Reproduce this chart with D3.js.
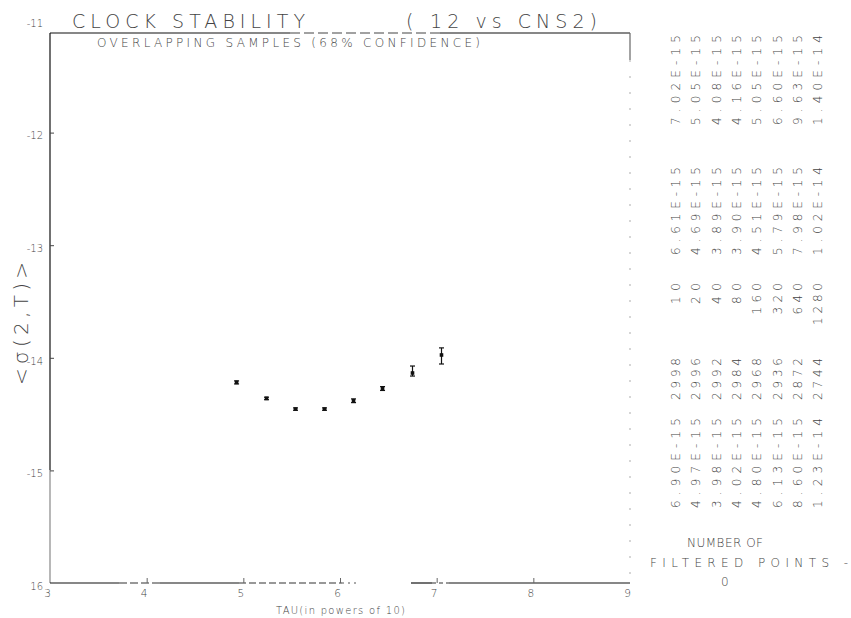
<!DOCTYPE html>
<html><head><meta charset="utf-8">
<script src="https://cdn.jsdelivr.net/npm/d3@7"></script>
<style>
body{margin:0;background:#fff;}
text{font-family:"DejaVu Sans",sans-serif;font-weight:200;fill:#444;}
</style></head>
<body><svg id="c" width="851" height="618"></svg>
<script>
// ---- data ----
const xTicks = [3,4,5,6,7,8,9];
const xTickLabels = ["3","4","5","6","7","8","9"];
const yTicks = [-11,-12,-13,-14,-15,-16];
const yTickLabels = ["-11","-12","-13","-14","-15","16"];
// plotted positions (log10 units) as they appear
const logTau   = [4.93, 5.24, 5.54, 5.84, 6.14, 6.44, 6.75, 7.05];
const logSigma = [-14.218, -14.360, -14.455, -14.455, -14.381, -14.271, -14.135, -13.975];
const logHi    = [-14.205, -14.350, -14.445, -14.445, -14.365, -14.256, -14.073, -13.912];
const logLo    = [-14.232, -14.372, -14.466, -14.466, -14.398, -14.290, -14.162, -14.055];
// right-hand table columns
const colUpper = ["7.02E-15","5.05E-15","4.08E-15","4.16E-15","5.05E-15","6.60E-15","9.63E-15","1.40E-14"];
const colLower = ["6.61E-15","4.69E-15","3.89E-15","3.90E-15","4.51E-15","5.79E-15","7.98E-15","1.02E-14"];
const colTau   = ["10","20","40","80","160","320","640","1280"];
const colN     = ["2998","2996","2992","2984","2968","2936","2872","2744"];
const colSigma = ["6.90E-15","4.97E-15","3.98E-15","4.02E-15","4.80E-15","6.13E-15","8.60E-15","1.23E-14"];

const svg = d3.select("#c");
const x = d3.scaleLinear().domain([3,9]).range([50,630]);
const y = d3.scaleLinear().domain([-16,-11]).range([583,20]);
const ink = "#111";

// frame lines
function seg(x1,y1,x2,y2,dash,col,w){
  svg.append("line").attr("x1",x1).attr("y1",y1).attr("x2",x2).attr("y2",y2)
    .attr("stroke",col||ink).attr("stroke-width",w||1.2)
    .attr("stroke-dasharray",dash||null);
}
// top
seg(50,33,290,33);
seg(290,33,440,33,"10,4","#444");
seg(440,33,630,33);
// left
seg(50,33,50,470);
seg(50,470,50,583,null,"#888");
// right
seg(630,33,630,60,null,"#666");
seg(630,60,630,583,"2,14","#bbb");
// bottom
seg(50,583,119,583);
seg(119,583,160,583,"8,3","#333");
seg(160,583,239,583);
seg(239,583,342,583,"7,3","#333");
seg(342,583,358,583,"2,4","#555");
seg(411,583,432,583);
seg(432,583,449,583,"4,3","#333");
seg(449,583,630,583);

// axes via d3
const xAxis = d3.axisBottom(x).tickValues(xTicks).tickSize(-5).tickPadding(7)
  .tickFormat((d,i)=>xTickLabels[i]);
const gx = svg.append("g").attr("transform","translate(-3,583)").call(xAxis);
gx.select(".domain").remove();
gx.selectAll(".tick line").attr("stroke","#666").attr("transform","translate(3,0)")
  .attr("opacity",(d)=> (d===3||d===9)?0:1);
gx.selectAll(".tick text").attr("font-size",10.5).attr("fill","#444")
  .style("font-family","DejaVu Sans").style("font-weight",200);

const yAxis = d3.axisLeft(y).tickValues(yTicks).tickSize(-4).tickPadding(7)
  .tickFormat((d,i)=>yTickLabels[i]);
const gy = svg.append("g").attr("transform","translate(50,3)").call(yAxis);
gy.select(".domain").remove();
gy.selectAll(".tick line").attr("stroke","#444").attr("transform","translate(0,-3)")
  .attr("opacity",(d)=> (d===-11||d===-16)?0:1);
gy.selectAll(".tick text").attr("font-size",10).attr("fill","#444")
  .style("font-family","DejaVu Sans").style("font-weight",200);

// titles
svg.append("text").attr("x",72).attr("y",28).attr("font-size",19)
  .attr("textLength",233).attr("lengthAdjust","spacing").text("CLOCK STABILITY");
svg.append("text").attr("x",406).attr("y",28).attr("font-size",19).text("(");
svg.append("text").attr("x",430).attr("y",28).attr("font-size",19)
  .attr("textLength",167).attr("lengthAdjust","spacing").text("12 vs CNS2)");
svg.append("text").attr("x",97).attr("y",47).attr("font-size",12)
  .attr("textLength",383).attr("lengthAdjust","spacing")
  .text("OVERLAPPING SAMPLES (68% CONFIDENCE)");
svg.append("text").attr("x",276).attr("y",614).attr("font-size",10)
  .attr("textLength",129).attr("lengthAdjust","spacing")
  .text("TAU(in powers of 10)");
svg.append("text").attr("transform","translate(28,385) rotate(-90)")
  .attr("font-size",20).attr("textLength",123).attr("lengthAdjust","spacing")
  .text("<σ(2,T)>");

// data: error bars and markers
const pts = logTau.map((t,i)=>({t, s:logSigma[i], hi:logHi[i], lo:logLo[i]}));
const g = svg.append("g");
g.selectAll("line.eb").data(pts).join("line").attr("class","eb")
  .attr("x1",d=>x(d.t)).attr("x2",d=>x(d.t))
  .attr("y1",d=>y(d.hi)).attr("y2",d=>y(d.lo))
  .attr("stroke",ink).attr("stroke-width",1.2);
g.selectAll("line.cu").data(pts).join("line").attr("class","cu")
  .attr("x1",d=>x(d.t)-2.5).attr("x2",d=>x(d.t)+2.5)
  .attr("y1",d=>y(d.hi)).attr("y2",d=>y(d.hi)).attr("stroke",ink).attr("stroke-width",1.2);
g.selectAll("line.cl").data(pts).join("line").attr("class","cl")
  .attr("x1",d=>x(d.t)-2.5).attr("x2",d=>x(d.t)+2.5)
  .attr("y1",d=>y(d.lo)).attr("y2",d=>y(d.lo)).attr("stroke",ink).attr("stroke-width",1.2);
g.selectAll("rect.m").data(pts).join("rect").attr("class","m")
  .attr("x",d=>x(d.t)-1.8).attr("y",d=>y(d.s)-1.8)
  .attr("width",3.6).attr("height",3.6).attr("fill",ink);

// right-hand table (rotated columns)
const colX = d3.range(8).map(i=>680 + i*20.3);
function block(arr, yPos, len, anchor){
  svg.append("g").selectAll("text").data(arr).join("text")
    .attr("transform",(d,i)=>`translate(${colX[i]},${yPos}) rotate(-90)`)
    .attr("font-size",12).attr("text-anchor",anchor||"start")
    .attr("textLength",d=> len ? len : d.length*10.5)
    .attr("lengthAdjust","spacing")
    .text(d=>d);
}
block(colUpper,125,90);
block(colLower,255,88);
block(colTau,283,null,"end");
block(colN,400,42);
block(colSigma,508,90);

svg.append("text").attr("x",687).attr("y",547).attr("font-size",12)
  .attr("textLength",76).attr("lengthAdjust","spacing").text("NUMBER OF");
svg.append("text").attr("x",650).attr("y",567).attr("font-size",12)
  .attr("textLength",198).attr("lengthAdjust","spacing").text("FILTERED POINTS -");
svg.append("text").attr("x",721).attr("y",586).attr("font-size",12).text("0");
</script></body></html>
